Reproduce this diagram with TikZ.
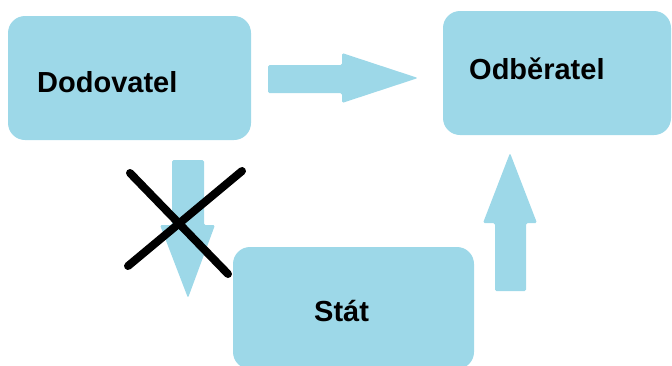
\documentclass[tikz,border=0pt]{standalone}
\usepackage{fontspec}
\setmainfont{Liberation Sans}
\definecolor{boxblue}{RGB}{157,216,232}
\tikzset{
  box/.style={fill=boxblue, draw=none, rounded corners=17pt, inner sep=0pt},
  boxlabel/.style={anchor=base west, inner sep=0pt, font=\fontsize{29}{31}\selectfont\bfseries},
  blockarrow/.style={fill=boxblue, draw=none, rounded corners=1.5pt},
  crossline/.style={line width=8pt, line cap=round, black}
}
\begin{document}
\begin{tikzpicture}[x=1pt,y=-1pt]
  \useasboundingbox (0,0) rectangle (672,365);
  \clip (0,0) rectangle (672,365);

  % boxes
  \node[box, minimum width=243pt, minimum height=124pt] (dod) at (129.5,78) {};
  \node[box, minimum width=228pt, minimum height=124pt] (odb) at (557,73) {};
  \node[box, minimum width=241pt, minimum height=122pt] (stat) at (353.5,308) {};

  % labels
  \node[boxlabel] (doddtext) at (37,92) {Dodovatel};
  \node[boxlabel] (odbtext) at (469,79) {Odběratel};
  \node[boxlabel] (stattext) at (314,321) {Stát};

  % Dodovatel -> Odběratel
  \fill[blockarrow] (268,65) -- (342,65) -- (342,53) -- (418,78) -- (342,103) -- (342,93) -- (268,93) -- cycle;

  % Dodovatel -> (crossed out)
  \fill[blockarrow] (172,160) -- (204,160) -- (204,225) -- (215,225) -- (188,298) -- (160,225) -- (172,225) -- cycle;

  % Stát -> Odběratel
  \fill[blockarrow] (495,291) -- (526,291) -- (526,223) -- (537,223) -- (510,153) -- (483,223) -- (495,223) -- cycle;

  % cross over the blocked flow
  \coordinate (c1a) at (130,173);
  \coordinate (c1b) at (228,274);
  \coordinate (c2a) at (242,171);
  \coordinate (c2b) at (128,266);
  \draw[crossline] (c1a) -- (c1b);
  \draw[crossline] (c2a) -- (c2b);
\end{tikzpicture}
\end{document}
